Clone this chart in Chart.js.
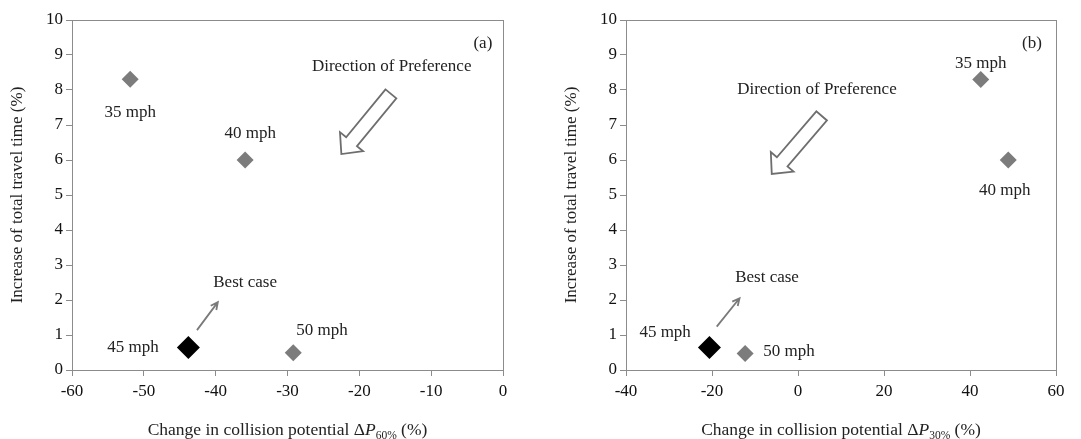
<!DOCTYPE html>
<html>
<head>
<meta charset="utf-8">
<script src="https://cdn.jsdelivr.net/npm/chart.js@4.4.1/dist/chart.umd.min.js"></script>
<style>
  html, body { margin: 0; padding: 0; background: #fff; }
  #wrap { position: relative; width: 1081px; height: 439px; }
  .box { position: absolute; top: 0; height: 439px; }
  #boxA { left: 0; width: 540px; }
  #boxB { left: 540px; width: 541px; }
</style>
</head>
<body>
<div id="wrap">
  <div class="box" id="boxA"><canvas id="chartA"></canvas></div>
  <div class="box" id="boxB"><canvas id="chartB"></canvas></div>
</div>
<script>
// ===== Datos =====
const speeds = ["35 mph", "40 mph", "45 mph", "50 mph"];
const bestIndex = 2; // 45 mph
const travelIncreaseA = [8.31, 6.0, 0.64, 0.49];
const collisionDeltaA = [-51.9, -35.9, -43.8, -29.2]; // ΔP60%
const travelIncreaseB = [8.3, 6.0, 0.64, 0.47];
const collisionDeltaB = [42.5, 48.9, -20.6, -12.3];   // ΔP30%
const xRangeA = [-60, 0], xStepA = 10;
const xRangeB = [-40, 60], xStepB = 20;
const yRange = [0, 10], yStep = 1;

const SERIF = "'Liberation Serif', 'Times New Roman', serif";
const GREY = "#7c7c7c";
const AXIS = "#8c8c8c";

// ===== Helpers =====
function points(xs, ys) {
  return xs.map((x, i) => ({ x, y: ys[i] }));
}

function hollowArrow(ctx, t, h) {
  const dx = h.x - t.x, dy = h.y - t.y;
  const len = Math.hypot(dx, dy);
  const d = { x: dx / len, y: dy / len };
  const n = { x: -d.y, y: d.x };
  const w = 7, hw = 15, hl = 16;
  const b = { x: h.x - d.x * hl, y: h.y - d.y * hl };
  const pts = [
    [t.x + n.x * w, t.y + n.y * w],
    [b.x + n.x * w, b.y + n.y * w],
    [b.x + n.x * hw, b.y + n.y * hw],
    [h.x, h.y],
    [b.x - n.x * hw, b.y - n.y * hw],
    [b.x - n.x * w, b.y - n.y * w],
    [t.x - n.x * w, t.y - n.y * w]
  ];
  ctx.beginPath();
  pts.forEach((p, i) => i ? ctx.lineTo(p[0], p[1]) : ctx.moveTo(p[0], p[1]));
  ctx.closePath();
  ctx.fillStyle = "#fff";
  ctx.fill();
  ctx.strokeStyle = "#6e6e6e";
  ctx.lineWidth = 1.8;
  ctx.stroke();
}

function lineArrow(ctx, a, b) {
  const ang = Math.atan2(b.y - a.y, b.x - a.x);
  const s = 8;
  ctx.strokeStyle = "#7a7a7a";
  ctx.lineWidth = 1.8;
  ctx.beginPath();
  ctx.moveTo(a.x, a.y);
  ctx.lineTo(b.x, b.y);
  ctx.moveTo(b.x - s * Math.cos(ang - 0.45), b.y - s * Math.sin(ang - 0.45));
  ctx.lineTo(b.x, b.y);
  ctx.lineTo(b.x - s * Math.cos(ang + 0.45), b.y - s * Math.sin(ang + 0.45));
  ctx.stroke();
}

// Marco, títulos de ejes y anotaciones
const figurePlugin = {
  id: "figure",
  afterDraw(chart, args, opts) {
    const { ctx, chartArea: ca, scales } = chart;
    const px = (v) => scales.x.getPixelForValue(v);
    const py = (v) => scales.y.getPixelForValue(v);
    ctx.save();

    // marco del área
    ctx.strokeStyle = AXIS;
    ctx.lineWidth = 1;
    ctx.strokeRect(Math.round(ca.left) + 0.5, Math.round(ca.top) + 0.5,
      Math.round(ca.right - ca.left), Math.round(ca.bottom - ca.top));

    ctx.fillStyle = "#222";
    ctx.textAlign = "center";
    ctx.textBaseline = "middle";
    ctx.font = "17px " + SERIF;
    (opts.notes || []).forEach(n => ctx.fillText(n.text, px(n.x), py(n.y)));

    if (opts.bigArrow) {
      const [t, h] = opts.bigArrow;
      hollowArrow(ctx, { x: px(t[0]), y: py(t[1]) }, { x: px(h[0]), y: py(h[1]) });
    }
    if (opts.bestArrow) {
      const [a, b] = opts.bestArrow;
      lineArrow(ctx, { x: px(a[0]), y: py(a[1]) }, { x: px(b[0]), y: py(b[1]) });
    }

    // título eje Y
    ctx.fillStyle = "#222";
    ctx.font = "17px " + SERIF;
    ctx.save();
    ctx.translate(opts.yTitleX, (ca.top + ca.bottom) / 2);
    ctx.rotate(-Math.PI / 2);
    ctx.fillText("Increase of total travel time (%)", 0, 0);
    ctx.restore();

    // título eje X con subíndice
    const parts = [
      { t: "Change in collision potential \u0394", f: "17.5px " + SERIF, dy: 0 },
      { t: "P", f: "italic 17.5px " + SERIF, dy: 0 },
      { t: opts.sub, f: "11.5px " + SERIF, dy: 4 },
      { t: " (%)", f: "17.5px " + SERIF, dy: 0 }
    ];
    let total = 0;
    parts.forEach(p => { ctx.font = p.f; p.w = ctx.measureText(p.t).width; total += p.w; });
    let x = (ca.left + ca.right) / 2 - total / 2;
    ctx.textAlign = "left";
    ctx.textBaseline = "alphabetic";
    parts.forEach(p => { ctx.font = p.f; ctx.fillText(p.t, x, 435 + p.dy); x += p.w; });

    ctx.restore();
  }
};

function buildChart(canvas, xs, ys, xRange, xStep, yAxisWidth, padRight, fig) {
  return new Chart(canvas, {
    type: "scatter",
    data: {
      datasets: [{
        data: points(xs, ys),
        pointStyle: "rectRot",
        pointRadius: speeds.map((s, i) => i === bestIndex ? 11.5 : 8.5),
        pointHoverRadius: speeds.map((s, i) => i === bestIndex ? 11.5 : 8.5),
        pointBackgroundColor: speeds.map((s, i) => i === bestIndex ? "#000" : GREY),
        pointBorderColor: speeds.map((s, i) => i === bestIndex ? "#000" : GREY),
        pointBorderWidth: 0
      }]
    },
    options: {
      responsive: true,
      maintainAspectRatio: false,
      animation: false,
      layout: { padding: { top: 20, right: padRight, left: 0, bottom: 0 } },
      plugins: { legend: { display: false }, tooltip: { enabled: false }, figure: fig },
      scales: {
        x: {
          type: "linear",
          min: xRange[0], max: xRange[1],
          ticks: { stepSize: xStep, color: "#111", padding: 5, maxRotation: 0,
                   font: { family: SERIF, size: 17 } },
          grid: { drawOnChartArea: false, tickLength: 6, color: AXIS },
          border: { color: AXIS },
          afterFit: (s) => { s.height = 69; }
        },
        y: {
          min: yRange[0], max: yRange[1],
          ticks: { stepSize: yStep, color: "#111", padding: 3,
                   font: { family: SERIF, size: 17 } },
          grid: { drawOnChartArea: false, tickLength: 6, color: AXIS },
          border: { color: AXIS },
          afterFit: (s) => { s.width = yAxisWidth; }
        }
      }
    },
    plugins: [figurePlugin]
  });
}

buildChart(document.getElementById("chartA"), collisionDeltaA, travelIncreaseA,
  xRangeA, xStepA, 72, 37, {
    yTitleX: 18,
    sub: "60%",
    notes: [
      { text: speeds[0], x: -51.9, y: 7.37 },
      { text: speeds[1], x: -35.2, y: 6.77 },
      { text: speeds[2], x: -51.5, y: 0.63 },
      { text: speeds[3], x: -25.2, y: 1.14 },
      { text: "Best case", x: -35.9, y: 2.51 },
      { text: "Direction of Preference", x: -15.5, y: 8.66 },
      { text: "(a)", x: -2.8, y: 9.34 }
    ],
    bigArrow: [[-15.6, 7.89], [-22.5, 6.17]],
    bestArrow: [[-42.6, 1.14], [-39.7, 1.94]]
  });

buildChart(document.getElementById("chartB"), collisionDeltaB, travelIncreaseB,
  xRangeB, xStepB, 86, 25, {
    yTitleX: 32,
    sub: "30%",
    notes: [
      { text: speeds[0], x: 42.5, y: 8.77 },
      { text: speeds[1], x: 48.1, y: 5.14 },
      { text: speeds[2], x: -30.9, y: 1.06 },
      { text: speeds[3], x: -2.1, y: 0.54 },
      { text: "Best case", x: -7.2, y: 2.63 },
      { text: "Direction of Preference", x: 4.4, y: 8.0 },
      { text: "(b)", x: 54.4, y: 9.34 }
    ],
    bigArrow: [[5.5, 7.26], [-6.1, 5.6]],
    bestArrow: [[-18.9, 1.24], [-13.6, 2.05]]
  });
</script>
</body>
</html>
